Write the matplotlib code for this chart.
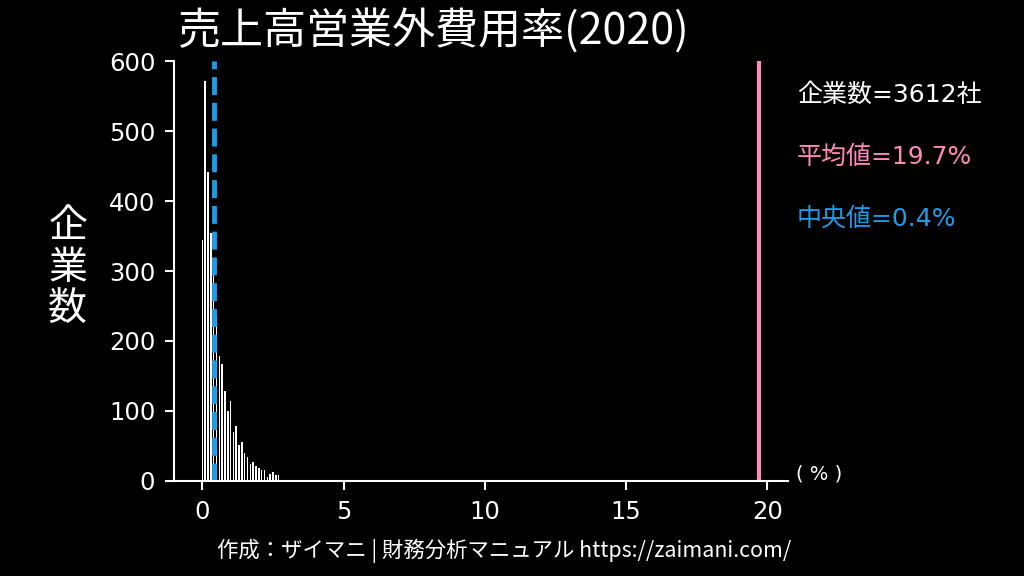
import numpy as np
import matplotlib.pyplot as plt

plt.rcParams['font.family'] = ['DejaVu Sans', 'Noto Sans CJK JP']
cjk = ['Noto Sans CJK JP', 'DejaVu Sans']

# 売上高営業外費用率の分布 (0.1%刻み)
bin_pos = [0.0, 0.1, 0.2, 0.3, 0.4, 0.5, 0.6, 0.7, 0.8, 0.9,
           1.0, 1.1, 1.2, 1.3, 1.4, 1.5, 1.6, 1.7, 1.8, 1.9,
           2.0, 2.1, 2.2, 2.3, 2.4, 2.5, 2.6, 2.7]
counts = [344, 572, 442, 354, 300, 237, 178, 167, 129, 100,
          114, 70, 79, 51, 56, 40, 34, 24, 27, 21,
          18, 15, 16, 6, 10, 13, 9, 9]
n_companies = 3612
mean_val = 19.7
median_val = 0.4
x_ticks = [0, 5, 10, 15, 20]
y_ticks = [0, 100, 200, 300, 400, 500, 600]

pink = '#ff88bb'
blue = '#1e9be8'

fig = plt.figure(figsize=(10.24, 5.76), dpi=100, facecolor='black')
ax = fig.add_axes([0.170, 0.165, 0.600, 0.729])
ax.set_facecolor('black')

ax.bar(bin_pos, counts, width=0.055, color='white', align='center')
ax.axvline(median_val, color=blue, lw=3.5, ls='--')
ax.axvline(mean_val, color=pink, lw=3)

ax.set_xlim(-1, 20.75)
ax.set_ylim(0, 600)
ax.set_xticks(x_ticks)
ax.set_yticks(y_ticks)
for s in ['top', 'right']:
    ax.spines[s].set_visible(False)
for s in ['left', 'bottom']:
    ax.spines[s].set_color('white')
    ax.spines[s].set_linewidth(1.5)
ax.tick_params(colors='white', labelsize=17.5, width=1.5, length=6.5, pad=7)

fig.text(0.173, 0.944, '売上高営業外費用率(2020)', color='white', fontsize=31,
         ha='left', va='center', family=cjk)
fig.text(0.066, 0.535, '企\n業\n数', color='white', fontsize=28,
         ha='center', va='center', linespacing=1.05, family=cjk)

fig.text(0.778, 0.835, '企業数=%d社' % n_companies, color='white', fontsize=18,
         ha='left', va='center')
fig.text(0.778, 0.727, '平均値=%.1f%%' % mean_val, color=pink, fontsize=18,
         ha='left', va='center')
fig.text(0.778, 0.621, '中央値=%.1f%%' % median_val, color=blue, fontsize=18,
         ha='left', va='center')
fig.text(0.777, 0.177, '( % )', color='white', fontsize=14, ha='left', va='center')

fig.text(0.492, 0.043, '作成：ザイマニ | 財務分析マニュアル https://zaimani.com/',
         color='white', fontsize=15.4, ha='center', va='center', family=cjk)

fig.savefig('out.png', dpi=100, facecolor='black')
